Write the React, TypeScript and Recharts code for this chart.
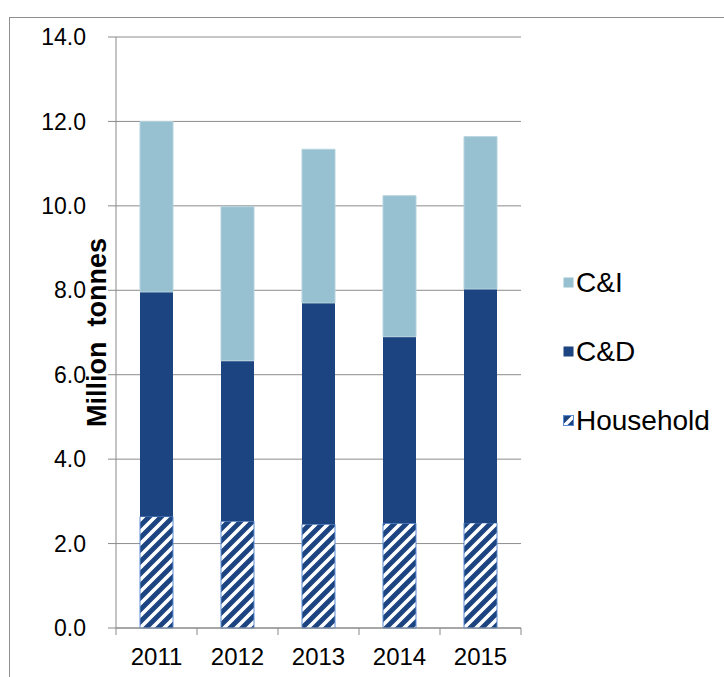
import React from 'react';
import { BarChart, Bar, XAxis, YAxis, CartesianGrid, Legend } from 'recharts';

const categories = ['2011', '2012', '2013', '2014', '2015'];
const household = [2.64, 2.53, 2.46, 2.48, 2.49];
const cAndD = [5.32, 3.8, 5.24, 4.42, 5.54];
const cAndI = [4.04, 3.65, 3.64, 3.34, 3.61];
const yTicks = [0, 2, 4, 6, 8, 10, 12, 14];

const data = categories.map((year, i) => ({
  year,
  household: household[i],
  cd: cAndD[i],
  ci: cAndI[i],
}));

const W = 724;
const H = 677;
const PLOT_LEFT = 116;
const PLOT_RIGHT = 521;
const PLOT_TOP = 37;
const PLOT_BOTTOM = 628;
const LEGEND_W = 160;
const BAND = (PLOT_RIGHT - PLOT_LEFT) / categories.length;

const FONT = '"Liberation Sans", Arial, sans-serif';
const LIGHT = '#97c0d0';
const DARK = '#1c4480';
const AXIS = '#898989';

const XTick = (props: any) => {
  const { x, y, payload, index } = props;
  return (
    <g>
      <line x1={x - BAND / 2} y1={y} x2={x - BAND / 2} y2={y + 7} stroke={AXIS} />
      {index === categories.length - 1 && (
        <line x1={x + BAND / 2} y1={y} x2={x + BAND / 2} y2={y + 7} stroke={AXIS} />
      )}
      <text x={x} y={y + 37} textAnchor="middle" fontSize={24} fontFamily={FONT} fill="#000">
        {payload.value}
      </text>
    </g>
  );
};

const legendItems = [
  { key: 'ci', label: 'C&I', fill: LIGHT, stroke: 'none' },
  { key: 'cd', label: 'C&D', fill: DARK, stroke: 'none' },
  { key: 'household', label: 'Household', fill: 'url(#hatch)', stroke: '#5b8bd2' },
];

const renderLegend = () => (
  <div style={{ fontFamily: FONT }}>
    {legendItems.map((it, i) => (
      <div
        key={it.key}
        style={{ display: 'flex', alignItems: 'center', height: 30, marginBottom: i < 2 ? 39 : 0 }}
      >
        <svg width={12} height={12} style={{ marginRight: 1 }}>
          <rect x={0.5} y={0.5} width={10} height={10} fill={it.fill} stroke={it.stroke} />
        </svg>
        <span style={{ fontSize: 28, color: '#000', whiteSpace: 'nowrap' }}>{it.label}</span>
      </div>
    ))}
  </div>
);

export default function App() {
  return (
    <div style={{ position: 'absolute', left: 0, top: 0, width: W, height: H, overflow: 'hidden', background: '#fff' }}>
      <div
        style={{
          position: 'absolute',
          left: 9,
          top: 17,
          width: 800,
          height: 800,
          border: '1px solid #8e8e8e',
          boxSizing: 'border-box',
        }}
      />
      <svg width={0} height={0} style={{ position: 'absolute' }}>
        <defs>
          <pattern id="hatch" patternUnits="userSpaceOnUse" width={12} height={12}>
            <rect x={0} y={0} width={12} height={12} fill={DARK} />
            <path d="M-3,3 L3,-3 M0,12 L12,0 M9,15 L15,9" stroke="#ffffff" strokeWidth={3.6} />
          </pattern>
        </defs>
      </svg>
      <div style={{ position: 'absolute', left: 0, top: 0 }}>
        <BarChart
          width={W}
          height={H}
          data={data}
          margin={{ top: PLOT_TOP, right: W - PLOT_RIGHT - LEGEND_W, bottom: 0, left: 0 }}
          barSize={33}
        >
          <CartesianGrid vertical={false} stroke="#8c8c8c" />
          <XAxis
            dataKey="year"
            height={H - PLOT_BOTTOM}
            stroke={AXIS}
            tickLine={false}
            tickSize={0}
            tickMargin={0}
            tick={<XTick />}
            interval={0}
          />
          <YAxis
            width={PLOT_LEFT}
            domain={[0, 14]}
            ticks={yTicks}
            tickFormatter={(v: number) => v.toFixed(1)}
            stroke={AXIS}
            tickSize={8}
            tickMargin={22}
            tick={{ fontSize: 23, fontFamily: FONT, fill: '#000' }}
            label={(p: any) => {
              const vb = p.viewBox;
              const cx = vb.x + vb.width - 19;
              const cy = vb.y + vb.height / 2;
              return (
                <text
                  x={cx}
                  y={cy}
                  transform={`rotate(-90, ${cx}, ${cy})`}
                  textAnchor="middle"
                  dominantBaseline="central"
                  fontSize={27}
                  fontWeight="bold"
                  fontFamily={FONT}
                  fill="#000"
                  style={{ whiteSpace: 'pre' }}
                >
                  {'Million  tonnes'}
                </text>
              );
            }}
          />
          <Legend
            layout="vertical"
            align="right"
            verticalAlign="top"
            content={renderLegend}
            wrapperStyle={{ position: 'absolute', left: 563, top: 268, width: LEGEND_W }}
          />
          <Bar dataKey="household" stackId="a" fill="url(#hatch)" stroke="#5b8bd2" strokeWidth={1} isAnimationActive={false} />
          <Bar dataKey="cd" stackId="a" fill={DARK} isAnimationActive={false} />
          <Bar dataKey="ci" stackId="a" fill={LIGHT} stroke="#b5d3de" strokeWidth={1} isAnimationActive={false} />
        </BarChart>
      </div>
    </div>
  );
}
